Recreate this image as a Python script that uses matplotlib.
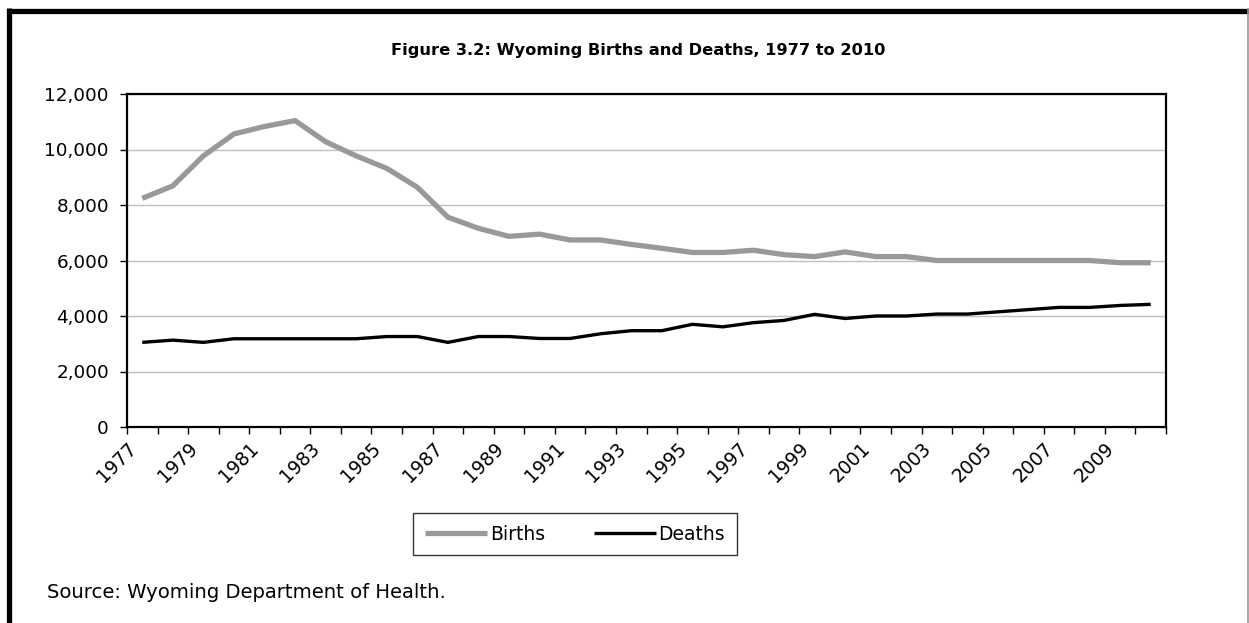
import matplotlib
matplotlib.use("Agg")
import matplotlib.pyplot as plt
from matplotlib.lines import Line2D
from matplotlib.ticker import FuncFormatter, FixedLocator

years = list(range(1977, 2011))
births = [8240, 8690, 9770, 10560, 10830, 11040, 10280, 9770, 9320, 8640,
          7560, 7160, 6870, 6950, 6740, 6740, 6580, 6440, 6290, 6290,
          6370, 6210, 6140, 6310, 6140, 6140, 6000, 6000, 6000, 6000,
          6000, 6000, 5920, 5920]
deaths = [3050, 3130, 3050, 3180, 3180, 3180, 3180, 3180, 3260, 3260,
          3050, 3260, 3260, 3190, 3190, 3360, 3470, 3470, 3700, 3610,
          3760, 3840, 4060, 3910, 4000, 4000, 4070, 4070, 4150, 4230,
          4310, 4310, 4380, 4420]
yticks = [0, 2000, 4000, 6000, 8000, 10000, 12000]

W, H = 1249, 623
fig = plt.figure(figsize=(W / 100, H / 100), dpi=100)
fig.patch.set_facecolor("white")
plt.rcParams["font.family"] = ["DejaVu Sans"]

ax = fig.add_axes([127 / W, 1 - 427 / H, (1166 - 127) / W, (427 - 94) / H])
x = list(range(len(years)))
ax.plot(x, births, color="#999999", lw=3.8, solid_joinstyle="miter",
        solid_capstyle="butt", label="Births", zorder=3)
ax.plot(x, deaths, color="black", lw=2.4, solid_joinstyle="miter",
        solid_capstyle="butt", label="Deaths", zorder=4)

ax.set_xlim(-0.5, len(years) - 0.5)
ax.set_ylim(0, 12000)
ax.set_yticks(yticks)
ax.yaxis.set_major_formatter(FuncFormatter(lambda v, p: f"{int(v):,}"))
ax.grid(axis="y", color="#c0c0c0", lw=1.0)
ax.set_axisbelow(True)

# category boundaries get the tick marks, labels sit under every second category
ax.xaxis.set_major_locator(FixedLocator([i - 0.5 for i in range(len(years) + 1)]))
ax.set_xticklabels([])
ax.tick_params(axis="x", which="major", length=5, width=1, color="black")
ax.tick_params(axis="y", length=5, width=1, color="black", labelsize=13.2, pad=8)
for i in range(0, len(years), 2):
    ax.text(i - 0.5, -420, str(years[i]), rotation=45, ha="right", va="top",
            rotation_mode="anchor", fontsize=13.5, transform=ax.transData)

for s in ax.spines.values():
    s.set_linewidth(1.6)
    s.set_color("black")

fig.text(638 / W, 1 - 50 / H, "Figure 3.2: Wyoming Births and Deaths, 1977 to 2010",
         ha="center", va="center", fontsize=11.7, fontweight="bold")
fig.text(47 / W, 1 - 593 / H, "Source: Wyoming Department of Health.",
         ha="left", va="center", fontsize=14.1)

leg = fig.legend(loc="center", bbox_to_anchor=(575 / W, 1 - 534 / H), ncol=2,
                 fontsize=13.5, frameon=True, fancybox=False, handlelength=3.3,
                 handletextpad=0.15, columnspacing=2.6, borderpad=0.62)
leg.get_frame().set_edgecolor("black")
leg.get_frame().set_linewidth(1.0)

# page border: heavy top and left rules, light right edge
fig.add_artist(Line2D([9 / W, 1], [1 - 10.5 / H, 1 - 10.5 / H], color="black",
                      lw=3.8, transform=fig.transFigure, solid_capstyle="butt"))
fig.add_artist(Line2D([9 / W, 9 / W], [0, 1 - 8 / H], color="black",
                      lw=3.8, transform=fig.transFigure, solid_capstyle="butt"))
fig.add_artist(Line2D([1 - 1.5 / W, 1 - 1.5 / W], [0, 1 - 8 / H], color="#999999",
                      lw=1.2, transform=fig.transFigure, solid_capstyle="butt"))

fig.savefig("out.png", dpi=100)
